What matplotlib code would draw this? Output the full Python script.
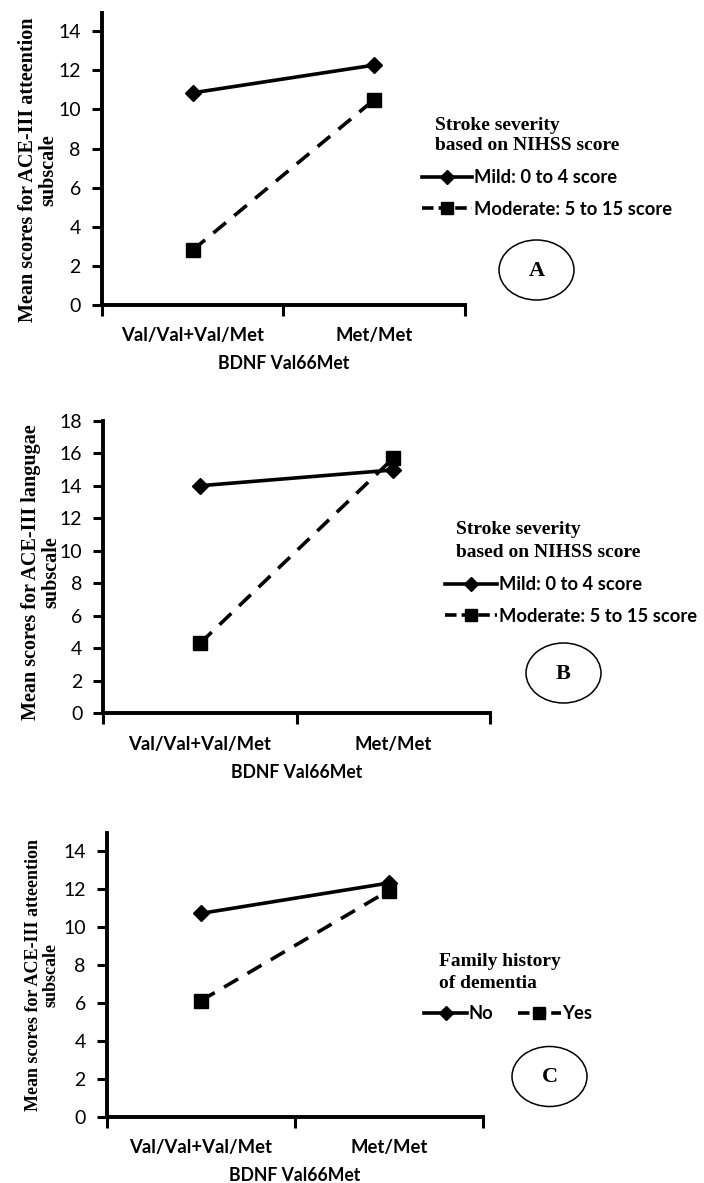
import matplotlib
matplotlib.use("Agg")
import matplotlib.pyplot as plt
from matplotlib.lines import Line2D
from matplotlib.patches import Ellipse

# data
categories = ["Val/Val+Val/Met", "Met/Met"]

a_mild = [10.85, 12.27]
a_moderate = [2.8, 10.5]

b_mild = [14.0, 14.97]
b_moderate = [4.3, 15.7]

c_no = [10.7, 12.3]
c_yes = [6.1, 11.9]

severity_labels = ["Mild: 0 to 4 score", "Moderate: 5 to 15 score"]
history_labels = ["No", "Yes"]

W, H = 704, 1183
SANS = "Lato"
SERIF = "Liberation Serif"

fig = plt.figure(figsize=(W / 100, H / 100), dpi=100)


def px_axes(left, right, top, bottom):
    # pixel box -> figure fraction
    return fig.add_axes([left / W, 1 - bottom / H, (right - left) / W, (bottom - top) / H])


def panel(ax, s1, s2, ymax, ystep):
    x = [0.5, 1.5]
    ax.plot(x, s1, color="black", lw=2.6, marker="D", ms=8.5, mfc="black", mec="black", zorder=3)
    ax.plot(x, s2, color="black", lw=2.6, ls=(0, (4.5, 3)), marker="s", ms=9.5,
            mfc="black", mec="black", zorder=3)
    ax.set_xlim(0, 2)
    ax.set_ylim(0, ymax)
    ax.set_yticks(range(0, int(ymax) + 1, ystep))
    ax.set_xticks([0, 1, 2])
    ax.set_xticklabels([])
    ax.set_xticks(x, minor=True)
    ax.set_xticklabels(categories, minor=True, fontsize=13.3, fontweight="bold", family=SANS)
    ax.tick_params(axis="x", which="major", length=8, width=2.2, direction="out", color="black")
    ax.tick_params(axis="x", which="minor", length=0, pad=16)
    ax.tick_params(axis="y", length=7, width=2.2, pad=8, labelsize=14, color="black")
    for lab in ax.get_yticklabels():
        lab.set_family(SANS)
    for s in ["top", "right"]:
        ax.spines[s].set_visible(False)
    for s in ["left", "bottom"]:
        ax.spines[s].set_linewidth(2.8)
        ax.spines[s].set_color("black")
    ax.set_xlabel("BDNF Val66Met", fontsize=12.7, fontweight="bold", family=SANS, labelpad=8)


def handles():
    h1 = Line2D([], [], color="black", lw=2.6, marker="D", ms=7)
    h2 = Line2D([], [], color="black", lw=2.6, ls=(0, (3.2, 1.4)), marker="s", ms=8)
    return [h1, h2]


def circle(cx, cy, letter):
    fig.patches.append(Ellipse((cx / W, 1 - cy / H), 75 / W, 60 / H, transform=fig.transFigure,
                               fill=False, lw=1.1, ec="black"))
    fig.text(cx / W, 1 - (cy + 1) / H, letter, ha="center", va="center", fontsize=16,
             fontweight="bold", family=SERIF)


def title_lines(x, y1, y2, l1, l2):
    for yy, txt in [(y1, l1), (y2, l2)]:
        fig.text(x / W, 1 - yy / H, txt, ha="left", va="center", fontsize=14,
                 fontweight="bold", family=SERIF)


legend_font = {"family": SANS, "weight": "bold", "size": 13.2}


def legend(ax, labels, x, top, hlen, **kw):
    ax.legend(handles(), labels, loc="upper left", bbox_to_anchor=(x / W, 1 - top / H),
              bbox_transform=fig.transFigure, frameon=False, handlelength=hlen,
              handletextpad=0.1, labelspacing=0.8, borderpad=0, borderaxespad=0,
              prop=legend_font, **kw)


# panel A
ax_a = px_axes(101.7, 465, 12.7, 305)
panel(ax_a, a_mild, a_moderate, 14.95, 2)
fig.text(38 / W, 1 - 170 / H, "Mean scores for ACE-III atteention\nsubscale", rotation=90,
         ha="center", va="center", fontsize=14.5, fontweight="bold", family=SERIF, linespacing=1.0)
title_lines(435, 125, 146, "Stroke severity", "based on NIHSS score")
legend(ax_a, severity_labels, 422, 169, 2.75)
circle(536.5, 270, "A")

# panel B
ax_b = px_axes(103.3, 490, 420.7, 713.3)
panel(ax_b, b_mild, b_moderate, 18, 2)
fig.text(41 / W, 1 - 572 / H, "Mean scores for ACE-III langugae\nsubscale", rotation=90,
         ha="center", va="center", fontsize=14.5, fontweight="bold", family=SERIF, linespacing=1.0)
title_lines(456, 530, 553, "Stroke severity", "based on NIHSS score")
legend(ax_b, severity_labels, 445, 576, 2.85)
circle(563.5, 673, "B")

# panel C
ax_c = px_axes(106.7, 482.7, 832.7, 1116.7)
panel(ax_c, c_no, c_yes, 14.95, 2)
fig.text(42 / W, 1 - 975 / H, "Mean scores for ACE-III atteention\nsubscale", rotation=90,
         ha="center", va="center", fontsize=13, fontweight="bold", family=SERIF, linespacing=1.0)
title_lines(439, 962, 983, "Family history", "of dementia")
legend(ax_c, history_labels, 424, 1005, 2.35, ncol=2, columnspacing=1.3)
circle(549.5, 1076.5, "C")

fig.savefig("out.png", dpi=100)
